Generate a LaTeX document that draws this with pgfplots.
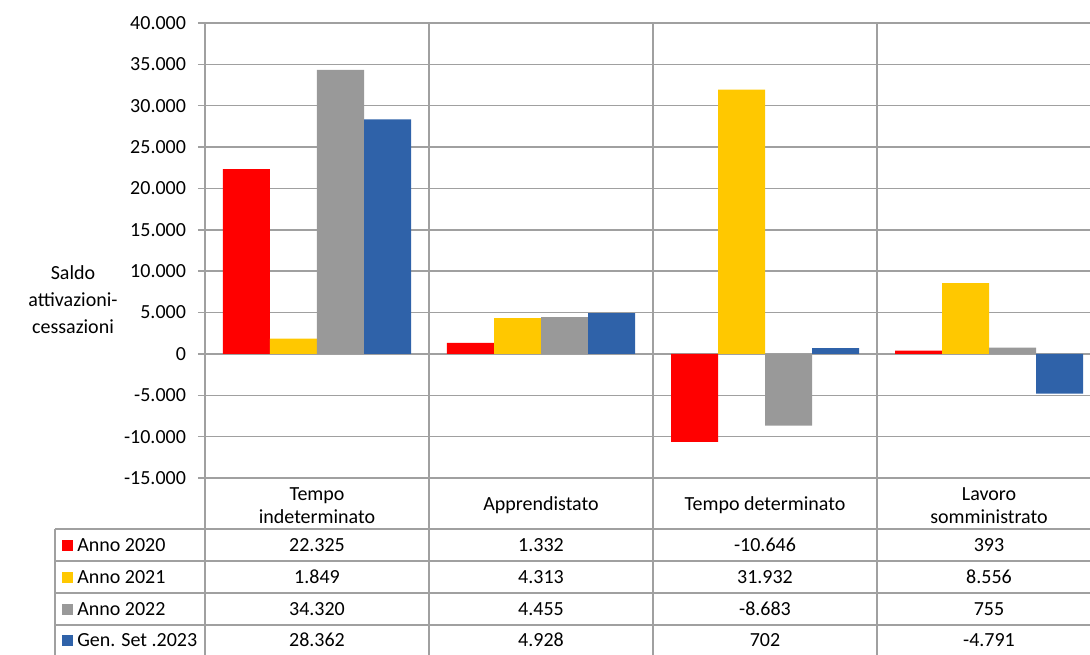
\documentclass[border=0pt]{standalone}
\usepackage{fontspec}
\setmainfont{Carlito}
\usepackage{pgfplots}
\pgfplotsset{compat=1.18}
\usepackage{pgfplotstable}
\definecolor{cRed}{HTML}{FF0000}
\definecolor{cYel}{HTML}{FFC800}
\definecolor{cGry}{HTML}{999999}
\definecolor{cBlu}{HTML}{2F62A9}
\definecolor{gridc}{HTML}{A0A0A0}

\pgfplotstableread{
x a2020 a2021 a2022 a2023
0 22325 1849 34320 28362
1 1332 4313 4455 4928
2 -10646 31932 -8683 702
3 393 8556 755 -4791
}\datatable

\begin{document}
\begin{tikzpicture}[font=\fontsize{15}{18}\selectfont]
\useasboundingbox (0,0) rectangle (817.5pt,491.25pt);
\begin{axis}[
  at={(153.75pt,132.75pt)}, anchor=south west,
  scale only axis, width=672pt, height=341.25pt,
  xmin=-0.5, xmax=3.5, ymin=-15000, ymax=40000,
  ytick={-15000,-10000,...,40000},
  ymajorgrids, grid style={gridc, line width=1.1pt},
  axis line style={draw=none},
  ybar=0pt, bar width=35.25pt,
  xtick={0,1,2,3},
  xticklabels={{Tempo\\indeterminato},{Apprendistato},{Tempo determinato},{Lavoro\\somministrato}},
  xtick style={draw=none},
  xticklabel style={align=center, anchor=center, yshift=-15.25pt, font=\fontsize{15}{17.25}\selectfont},
  ytick style={gridc, line width=1.1pt},
  ytick align=outside, major tick length=5.25pt,
  yticklabel style={xshift=-5.5pt},
  scaled y ticks=false,
  /pgf/number format/1000 sep={.},
  /pgf/number format/assume math mode=true,
  clip=false,
]
\addplot[fill=cRed, draw=none] table[x=x,y=a2020]{\datatable};
\addplot[fill=cYel, draw=none] table[x=x,y=a2021]{\datatable};
\addplot[fill=cGry, draw=none] table[x=x,y=a2022]{\datatable};
\addplot[fill=cBlu, draw=none] table[x=x,y=a2023]{\datatable};
\end{axis}
\node[align=center, font=\fontsize{15}{20.25}\selectfont] at (54.75pt,266.25pt) {Saldo\\attivazioni-\\cessazioni};
\begin{scope}[x=0.75pt,y=-0.75pt,yshift=491.25pt]
  \foreach \yy in {529,561,593,625} \draw[gridc, line width=1.1pt] (55,\yy) -- (1100,\yy);
  \draw[gridc, line width=1.1pt] (55,529) -- (55,660);
  \foreach \xx in {205,429,653,877} \draw[gridc, line width=1.1pt] (\xx,23) -- (\xx,660);
  % legend keys and row labels
  \fill[cRed] (62,540) rectangle (73,551);
  \fill[cYel] (62,572) rectangle (73,583);
  \fill[cGry] (62,604) rectangle (73,615);
  \fill[cBlu] (62,635) rectangle (73,646);
  \node[anchor=west, inner sep=0pt] at (77,545) {Anno 2020};
  \node[anchor=west, inner sep=0pt] at (77,577) {Anno 2021};
  \node[anchor=west, inner sep=0pt] at (77,609) {Anno 2022};
  \node[anchor=west, inner sep=0pt] at (77,640) {Gen. Set .2023};
  % values
  \node at (317,545) {22.325}; \node at (541,545) {1.332}; \node at (765,545) {-10.646}; \node at (989,545) {393};
  \node at (317,577) {1.849}; \node at (541,577) {4.313}; \node at (765,577) {31.932}; \node at (989,577) {8.556};
  \node at (317,609) {34.320}; \node at (541,609) {4.455}; \node at (765,609) {-8.683}; \node at (989,609) {755};
  \node at (317,640) {28.362}; \node at (541,640) {4.928}; \node at (765,640) {702}; \node at (989,640) {-4.791};
\end{scope}
\end{tikzpicture}
\end{document}
